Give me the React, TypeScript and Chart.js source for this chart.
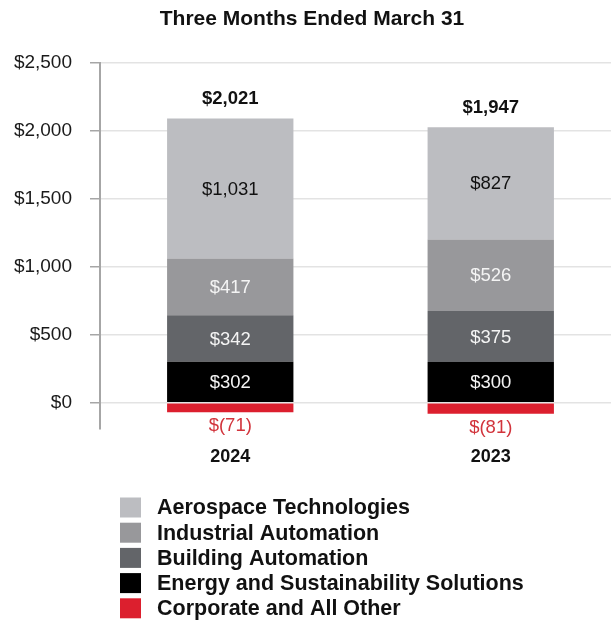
import React, { useEffect, useRef } from "react";
import { Chart, registerables } from "chart.js";

Chart.register(...registerables);

const title = "Three Months Ended March 31";
const categories = ["2024", "2023"];
const energy = [302, 300];
const building = [342, 375];
const industrial = [417, 526];
const aerospace = [1031, 827];
const corporate = [-71, -81];
const totals = [2021, 1947];
const yTicks = [0, 500, 1000, 1500, 2000, 2500];
const legendOrder = [
  "Aerospace Technologies",
  "Industrial Automation",
  "Building Automation",
  "Energy and Sustainability Solutions",
  "Corporate and All Other",
];

const FONT = '"Liberation Sans", Arial, Helvetica, sans-serif';
const RED_TEXT = "#d2343c";

const fmt = (v: number) =>
  v < 0
    ? `$(${Math.abs(v).toLocaleString("en-US")})`
    : `$${v.toLocaleString("en-US")}`;

const labelColors = ["#f4f4f4", "#f4f4f4", "#f4f4f4", "#111111", RED_TEXT];

const customPlugin = {
  id: "customLabels",
  afterDatasetsDraw(chart: any) {
    const ctx = chart.ctx;
    ctx.save();
    ctx.textAlign = "center";
    ctx.textBaseline = "middle";
    chart.data.datasets.forEach((ds: any, di: number) => {
      const meta = chart.getDatasetMeta(di);
      meta.data.forEach((bar: any, i: number) => {
        const v = ds.data[i] as number;
        const { x, y, base } = bar.getProps(["x", "y", "base"], true);
        ctx.font = `18.5px ${FONT}`;
        ctx.fillStyle = labelColors[di];
        if (v >= 0) {
          ctx.fillText(fmt(v), x, (y + base) / 2 + 1);
        } else {
          ctx.fillText(fmt(v), x, Math.max(y, base) + 14);
        }
      });
    });
    // totals above stacks
    const topMeta = chart.getDatasetMeta(3);
    topMeta.data.forEach((bar: any, i: number) => {
      ctx.font = `bold 18.5px ${FONT}`;
      ctx.fillStyle = "#111111";
      ctx.fillText(fmt(totals[i]), bar.x, bar.y - 19.5);
    });
    // title
    ctx.font = `bold 21px ${FONT}`;
    ctx.fillStyle = "#111111";
    ctx.fillText(title, 312, 19);
    // legend
    const byLabel: Record<string, any> = {};
    chart.data.datasets.forEach((ds: any) => (byLabel[ds.label] = ds));
    ctx.textAlign = "left";
    legendOrder.forEach((name, k) => {
      const ds = byLabel[name];
      const cy = 507.5 + k * 25.2;
      ctx.fillStyle = ds.backgroundColor;
      ctx.fillRect(120, cy - 10, 21, 20);
      ctx.fillStyle = "#111111";
      ctx.font = `bold 21.5px ${FONT}`;
      ctx.fillText(name, 157, cy + 1);
    });
    ctx.restore();
  },
};

export default function App() {
  const ref = useRef<HTMLCanvasElement | null>(null);

  useEffect(() => {
    if (!ref.current) return;
    const chart = new Chart(ref.current, {
      type: "bar",
      data: {
        labels: categories,
        datasets: [
          { label: "Energy and Sustainability Solutions", data: energy, backgroundColor: "#000000" },
          { label: "Building Automation", data: building, backgroundColor: "#636569" },
          { label: "Industrial Automation", data: industrial, backgroundColor: "#98989b" },
          { label: "Aerospace Technologies", data: aerospace, backgroundColor: "#bcbdc1" },
          { label: "Corporate and All Other", data: corporate, backgroundColor: "#dc1f2e" },
        ],
      },
      options: {
        responsive: false,
        animation: false,
        layout: { padding: { left: 0, right: 0, top: 63, bottom: 149.5 } },
        datasets: {
          bar: { categoryPercentage: 1, barPercentage: 0.485, borderWidth: 0 },
        },
        plugins: {
          legend: { display: false },
          title: { display: false },
          tooltip: { enabled: false },
        },
        scales: {
          x: {
            stacked: true,
            offset: true,
            grid: { display: false, drawTicks: false },
            border: { display: false },
            ticks: {
              padding: 18,
              color: "#111111",
              font: { family: FONT, size: 18, weight: "bold" },
            },
            afterFit: (scale: any) => {
              scale.height = 50;
            },
          },
          y: {
            stacked: true,
            min: -190,
            max: 2500,
            afterBuildTicks: (scale: any) => {
              scale.ticks = yTicks.map((v) => ({ value: v }));
            },
            afterFit: (scale: any) => {
              scale.width = 100;
            },
            grid: {
              color: "#e3e3e3",
              lineWidth: 1.5,
              tickLength: 10,
              tickColor: "#a6a6a6",
              tickWidth: 1.5,
            },
            border: { display: true, color: "#a6a6a6", width: 2 },
            ticks: {
              padding: 18,
              color: "#1a1a1a",
              font: { family: FONT, size: 19 },
              callback: (v: any) => fmt(Number(v)),
            },
          },
        },
      },
      plugins: [customPlugin],
    } as any);
    return () => chart.destroy();
  }, []);

  return (
    <div
      style={{
        position: "fixed",
        left: 0,
        top: 0,
        width: 611,
        height: 628,
        overflow: "hidden",
        background: "#ffffff",
      }}
    >
      <canvas ref={ref} width={621} height={628} style={{ width: 621, height: 628, display: "block" }} />
    </div>
  );
}
